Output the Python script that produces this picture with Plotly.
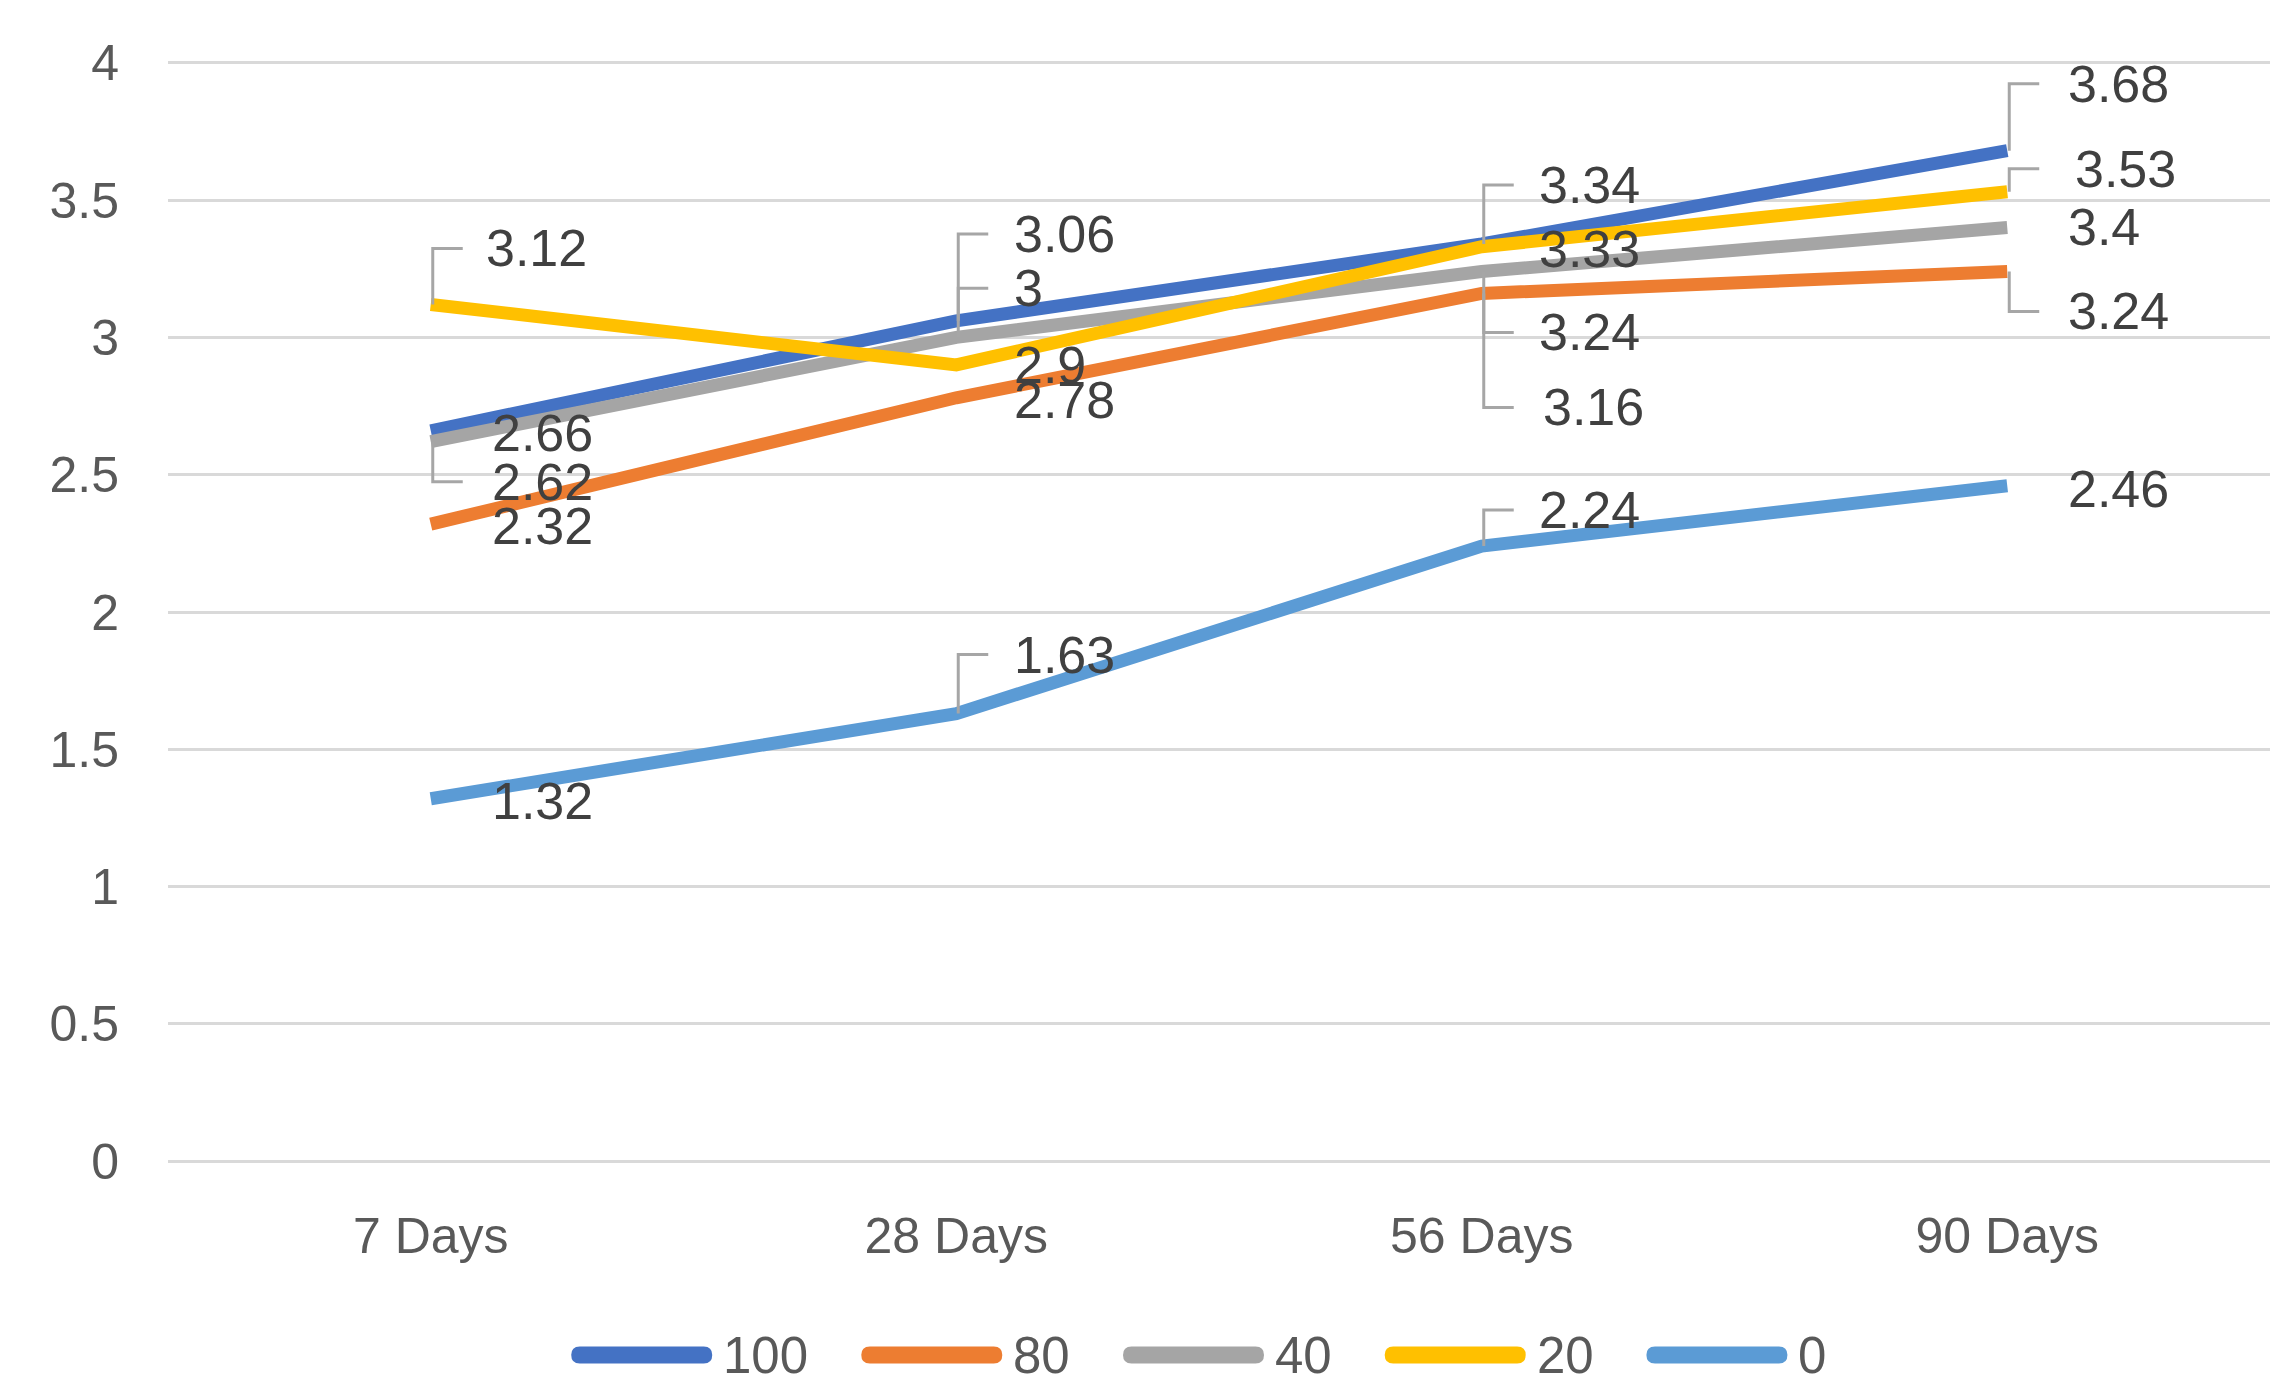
import plotly.graph_objects as go

categories = ["7 Days", "28 Days", "56 Days", "90 Days"]
series_names = ["100", "80", "40", "20", "0"]
values_100 = [2.66, 3.06, 3.34, 3.68]
values_80 = [2.32, 2.78, 3.16, 3.24]
values_40 = [2.62, 3.00, 3.24, 3.40]
values_20 = [3.12, 2.90, 3.33, 3.53]
values_0 = [1.32, 1.63, 2.24, 2.46]
y_ticks = [0, 0.5, 1, 1.5, 2, 2.5, 3, 3.5, 4]

series_values = [values_100, values_80, values_40, values_20, values_0]
colors = ["#4472C4", "#ED7D31", "#A5A5A5", "#FFC000", "#5B9BD5"]

# label offsets (pixels: dx right, dy down) and whether a leader line is drawn
label_offsets = {
    "100": [(59, 2, False), (56, -87, True), (55, -59, True), (59, -67, True)],
    "80": [(59, 2, False), (56, 2, False), (59, 114, True), (59, 40, True)],
    "40": [(59, 40, True), (56, -49, True), (55, 61, True), (59, -1, False)],
    "20": [(53, -56, True), (56, 0, False), (55, 2, False), (66, -23, True)],
    "0": [(59, 2, False), (56, -59, True), (55, -36, True), (59, 3, False)],
}

FONT = "Liberation Sans"
L, R, T, B = 160, 32, 52, 233
W, H = 2294, 1389

fig = go.Figure()
for name, vals, col in zip(series_names, series_values, colors):
    fig.add_trace(go.Scatter(
        x=categories, y=vals, name=name, mode="lines",
        line=dict(color=col, width=13), showlegend=False,
    ))

annotations = []
shapes = []
for name, vals in zip(series_names, series_values):
    for i, (cat, v) in enumerate(zip(categories, vals)):
        dx, dy, leader = label_offsets[name][i]
        annotations.append(dict(
            x=cat, y=v, xref="x", yref="y", text=f"{v:g}", showarrow=False,
            xanchor="left", yanchor="middle", xshift=dx, yshift=-dy,
            font=dict(family=FONT, size=52, color="#404040"),
        ))
        if leader:
            shapes.append(dict(
                type="path", xref="x", yref="y",
                xsizemode="pixel", ysizemode="pixel",
                xanchor=categories.index(cat), yanchor=v,
                path=f"M 2,0 L 2,{-dy} L 32,{-dy}",
                line=dict(color="#A6A6A6", width=3),
                layer="above",
            ))

# custom legend at the bottom (long, thick, round-capped line keys like the original)
leg_line, leg_gap, leg_sep, leg_font, leg_thick = 141, 9, 55, 51, 17
leg_cy = 1347
text_w = [len(n) * 0.556 * leg_font for n in series_names]
total = sum(leg_line + leg_gap + tw for tw in text_w) + leg_sep * (len(series_names) - 1)
x_cur = 1190 - total / 2
plot_bottom = H - B
r = leg_thick / 2
for name, col, tw in zip(series_names, colors, text_w):
    a = x_cur - L
    b = a + leg_line
    c = -(leg_cy - plot_bottom)
    capsule = (
        f"M {a + r},{c + r} L {b - r},{c + r} Q {b},{c + r} {b},{c} "
        f"Q {b},{c - r} {b - r},{c - r} L {a + r},{c - r} "
        f"Q {a},{c - r} {a},{c} Q {a},{c + r} {a + r},{c + r} Z"
    )
    shapes.append(dict(
        type="path", xref="paper", yref="paper",
        xsizemode="pixel", ysizemode="pixel", xanchor=0, yanchor=0,
        path=capsule, fillcolor=col, line=dict(width=0),
    ))
    annotations.append(dict(
        x=0, y=0, xref="paper", yref="paper", showarrow=False,
        xshift=b + leg_gap, yshift=c,
        xanchor="left", yanchor="middle", text=name,
        font=dict(family=FONT, size=leg_font, color="#595959"),
    ))
    x_cur += leg_line + leg_gap + tw + leg_sep

fig.update_layout(
    width=W, height=H,
    paper_bgcolor="white", plot_bgcolor="white",
    margin=dict(l=L, r=R, t=T, b=B),
    font=dict(family=FONT, size=50, color="#595959"),
    showlegend=False,
    xaxis=dict(
        type="category", range=[-0.5, 3.5], showgrid=False, zeroline=False,
        showline=False, ticks="", ticklabelstandoff=38,
        tickfont=dict(family=FONT, size=50, color="#595959"),
    ),
    yaxis=dict(
        range=[-0.01, 4.01], tickvals=y_ticks, ticktext=[f"{t:g}" for t in y_ticks],
        showgrid=True, gridcolor="#D9D9D9", gridwidth=3, zeroline=False,
        showline=False, ticks="", ticklabelstandoff=48,
        tickfont=dict(family=FONT, size=50, color="#595959"),
    ),
    annotations=annotations,
    shapes=shapes,
)

fig.write_html("out.html")
